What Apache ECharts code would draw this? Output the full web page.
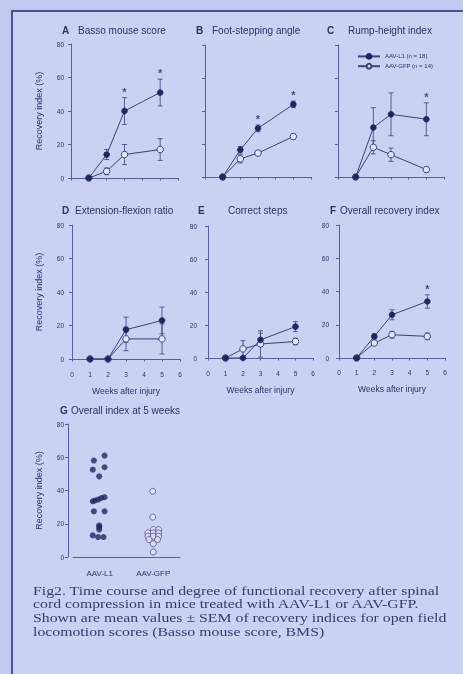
<!DOCTYPE html>
<html><head><meta charset="utf-8">
<script src="https://cdn.jsdelivr.net/npm/echarts@6/dist/echarts.min.js"></script>
<style>html,body{margin:0;padding:0;background:#c3c9ee;} #c{width:463px;height:674px;filter:blur(0.45px);}</style>
</head><body><div id="c"></div>
<script>
// ---------- DATA ----------
const weeks = [1, 2, 3, 5];
const weekTicks = [0, 1, 2, 3, 4, 5, 6];
const yTicks = [0, 20, 40, 60, 80];
const seriesNames = ['AAV-L1 (n = 18)', 'AAV-GFP (n = 14)'];
const groupLabels = ['AAV-L1', 'AAV-GFP'];
const panelLetters = ['A', 'B', 'C', 'D', 'E', 'F', 'G'];
const panelTitles = ['Basso mouse score', 'Foot-stepping angle', 'Rump-height index',
  'Extension-flexion ratio', 'Correct steps', 'Overall recovery index', 'Overall index at 5 weeks'];
const yTitle = 'Recovery index (%)';
const xTitle = 'Weeks after injury';
const caption = [
  'Fig2. Time course and degree of functional recovery after spinal',
  'cord compression in mice treated with AAV-L1 or AAV-GFP.',
  'Shown are mean values \u00b1 SEM of recovery indices for open field',
  'locomotion scores (Basso mouse score, BMS)'
];

// A Basso mouse score
const bassoL1 = [0, 14, 40, 51];
const bassoL1Sem = [0, 3, 8, 8];
const bassoGFP = [0, 4, 14, 17];
const bassoGFPSem = [0, 2, 6, 6.5];
const bassoSig = [3, 5];
// B Foot-stepping angle
const footL1 = [0, 16.5, 29.5, 44];
const footL1Sem = [0, 2, 2, 2];
const footGFP = [0, 11, 14.5, 24.5];
const footGFPSem = [0, 2.5, 1.5, 1.5];
const footSig = [3, 5];
// C Rump-height index
const rumpL1 = [0, 30, 38, 35];
const rumpL1Sem = [0, 12, 13, 10];
const rumpGFP = [0, 18, 13.5, 4.5];
const rumpGFPSem = [0, 4, 4, 1.5];
const rumpSig = [5];
// D Extension-flexion ratio
const extL1 = [0, 0, 17.5, 23];
const extL1Sem = [0, 0, 7.5, 8];
const extGFP = [0, 0, 12, 12];
const extGFPSem = [0, 0, 7, 9];
const extSig = [];
// E Correct steps
const stepsL1 = [0, 0, 11, 19];
const stepsL1Sem = [0, 0, 4, 3];
const stepsGFP = [0, 5.5, 8.5, 10];
const stepsGFPSem = [0, 5, 8, 2];
const stepsSig = [];
// F Overall recovery index
const overallL1 = [0, 13, 26, 34];
const overallL1Sem = [0, 1.5, 3, 4];
const overallGFP = [0, 9, 14, 13];
const overallGFPSem = [0, 1, 2, 2];
const overallSig = [5];
// G Overall index at 5 weeks (individual animals)
const gL1Values = [61, 58, 54, 52.5, 48.5, 36, 35.5, 34.5, 34, 33.5, 27.5, 27.5, 19, 18, 16.5, 13, 12, 12];
const gL1X      = [1.09, 0.89, 1.09, 0.87, 0.99, 1.09, 1.03, 0.97, 0.91, 0.87, 0.89, 1.09, 0.99, 0.99, 0.99, 0.87, 0.97, 1.07];
const gGFPValues = [39.5, 24, 16.5, 16.5, 14.5, 14.5, 14.5, 12.5, 12.5, 12.5, 10.5, 10.5, 8, 3];
const gGFPX      = [1.99, 1.99, 2.0, 2.1, 1.9, 2.0, 2.1, 1.9, 2.0, 2.1, 1.92, 2.08, 2.0, 2.0];

// ---------- STYLE ----------
const C_NAVY = '#1d285c';
const C_LINE = '#3b4374';
const C_AXIS = '#59619a';
const C_TEXT = '#2c3366';
const C_OPEN = '#e2e5f8';
const SANS = '"Liberation Sans", Arial, sans-serif';

const panels = [
  {l1: bassoL1, l1s: bassoL1Sem, g: bassoGFP, gs: bassoGFPSem, sig: bassoSig},
  {l1: footL1, l1s: footL1Sem, g: footGFP, gs: footGFPSem, sig: footSig},
  {l1: rumpL1, l1s: rumpL1Sem, g: rumpGFP, gs: rumpGFPSem, sig: rumpSig},
  {l1: extL1, l1s: extL1Sem, g: extGFP, gs: extGFPSem, sig: extSig},
  {l1: stepsL1, l1s: stepsL1Sem, g: stepsGFP, gs: stepsGFPSem, sig: stepsSig},
  {l1: overallL1, l1s: overallL1Sem, g: overallGFP, gs: overallGFPSem, sig: overallSig}
];
const layout = [
  {left: 71, top: 44, width: 107, height: 134, yOff: 3, xOff: 5, yLab: true, xLab: false, yName: true},
  {left: 205, top: 45, width: 106, height: 132, yOff: 5, xOff: 6, yLab: false, xLab: false, yName: false},
  {left: 338, top: 45, width: 106, height: 132, yOff: 6, xOff: 6, yLab: false, xLab: false, yName: false},
  {left: 72, top: 225, width: 108, height: 134, yOff: 4, xOff: 7, yLab: true, xLab: true, yName: true},
  {left: 208, top: 226, width: 105, height: 132, yOff: 7, xOff: 7, yLab: true, xLab: true, yName: false},
  {left: 339, top: 225, width: 106, height: 133, yOff: 6, xOff: 6, yLab: true, xLab: true, yName: false},
  {left: 73, top: 424, width: 107, height: 133, yOff: 5, xOff: 6, yLab: true, xLab: true, yName: true}
];
const titlePos = [
  {lx: 62, tx: 78, y: 30}, {lx: 196, tx: 212, y: 30}, {lx: 327, tx: 348, y: 30},
  {lx: 62, tx: 75, y: 210}, {lx: 198, tx: 228, y: 210}, {lx: 330, tx: 340, y: 210},
  {lx: 60, tx: 71, y: 410}
];

function errItem(params, api) {
  const x = api.value(0), lo = api.value(1), hi = api.value(2);
  const a = api.coord([x, lo]), b = api.coord([x, hi]);
  const cap = 2.5, st = {stroke: C_LINE, lineWidth: 0.8};
  return {type: 'group', children: [
    {type: 'line', shape: {x1: a[0], y1: a[1], x2: b[0], y2: b[1]}, style: st},
    {type: 'line', shape: {x1: b[0] - cap, y1: b[1], x2: b[0] + cap, y2: b[1]}, style: st},
    {type: 'line', shape: {x1: a[0] - cap, y1: a[1], x2: a[0] + cap, y2: a[1]}, style: st}
  ]};
}

const grid = [], xAxis = [], yAxis = [], series = [], graphic = [];

layout.forEach((L, i) => {
  grid.push({left: L.left, top: L.top, width: L.width, height: L.height});
  const yax = {
    type: 'value', gridIndex: i, min: yTicks[0], max: yTicks[yTicks.length - 1], interval: 20,
    offset: L.yOff,
    axisLine: {show: true, lineStyle: {color: C_AXIS, width: 1}},
    axisTick: {show: true, length: 3, lineStyle: {color: C_AXIS}},
    splitLine: {show: false},
    axisLabel: {show: L.yLab, fontSize: 6.5, color: C_TEXT, margin: 4, fontFamily: SANS}
  };
  if (L.yName) Object.assign(yax, {name: yTitle, nameLocation: 'middle', nameGap: 25,
    nameTextStyle: {fontSize: 9, color: C_TEXT, fontFamily: SANS}});
  yAxis.push(yax);
  if (i < 6) {
    const xax = {
      type: 'value', gridIndex: i, min: weekTicks[0], max: weekTicks[weekTicks.length - 1], interval: 1,
      offset: L.xOff,
      axisLine: {show: true, lineStyle: {color: C_AXIS, width: 1}},
      axisTick: {show: true, length: 2.5, lineStyle: {color: C_AXIS}},
      splitLine: {show: false},
      axisLabel: {show: L.xLab, fontSize: 6.5, color: C_TEXT, margin: 5, fontFamily: SANS}
    };
    if (L.xLab) Object.assign(xax, {name: xTitle, nameLocation: 'middle', nameGap: 20,
      nameTextStyle: {fontSize: 8.5, color: C_TEXT, fontFamily: SANS}});
    xAxis.push(xax);
  }
});

// panel G axes: visible category axis + hidden value axis for jittered dots
xAxis.push({type: 'category', gridIndex: 6, data: groupLabels, offset: layout[6].xOff,
  axisLine: {show: true, lineStyle: {color: C_AXIS}}, axisTick: {show: false},
  axisLabel: {fontSize: 8, color: C_TEXT, margin: 6, fontFamily: SANS}});
const gXVal = xAxis.length;
xAxis.push({type: 'value', gridIndex: 6, min: 0.5, max: 2.5, show: false});

panels.forEach((P, i) => {
  const errL1 = [], errG = [];
  weeks.forEach((w, k) => {
    if (P.l1s[k] > 0) errL1.push([w, P.l1[k] - P.l1s[k], P.l1[k] + P.l1s[k]]);
    if (P.gs[k] > 0) errG.push([w, P.g[k] - P.gs[k], P.g[k] + P.gs[k]]);
  });
  series.push({type: 'custom', xAxisIndex: i, yAxisIndex: i, renderItem: errItem, data: errG, z: 1, silent: true});
  series.push({type: 'custom', xAxisIndex: i, yAxisIndex: i, renderItem: errItem, data: errL1, z: 1, silent: true});
  series.push({type: 'line', name: seriesNames[1], xAxisIndex: i, yAxisIndex: i,
    data: weeks.map((w, k) => [w, P.g[k]]), symbol: 'circle', symbolSize: 6.5,
    itemStyle: {color: C_OPEN, borderColor: C_LINE, borderWidth: 1},
    lineStyle: {color: C_LINE, width: 1}, z: 2});
  series.push({type: 'line', name: seriesNames[0], xAxisIndex: i, yAxisIndex: i,
    data: weeks.map((w, k) => [w, P.l1[k]]), symbol: 'circle', symbolSize: 6,
    itemStyle: {color: C_NAVY, borderColor: C_NAVY, borderWidth: 0.5},
    lineStyle: {color: C_LINE, width: 1}, z: 3});
  if (P.sig.length) {
    series.push({type: 'scatter', xAxisIndex: i, yAxisIndex: i, symbolSize: 1,
      itemStyle: {color: 'rgba(0,0,0,0)'},
      data: P.sig.map(w => { const k = weeks.indexOf(w); return [w, P.l1[k] + P.l1s[k]]; }),
      label: {show: true, formatter: '*', position: 'top', distance: 0, fontSize: 11,
        fontWeight: 'bold', color: C_NAVY, fontFamily: SANS}, z: 4, silent: true});
  }
});

series.push({type: 'scatter', xAxisIndex: gXVal, yAxisIndex: 6, symbol: 'circle', symbolSize: 6,
  itemStyle: {color: C_NAVY}, data: gL1Values.map((v, k) => [gL1X[k], v]), z: 3});
series.push({type: 'scatter', xAxisIndex: gXVal, yAxisIndex: 6, symbol: 'circle', symbolSize: 6,
  itemStyle: {color: C_OPEN, borderColor: '#4a5288', borderWidth: 1}, data: gGFPValues.map((v, k) => [gGFPX[k], v]), z: 3});

// background + frame
graphic.push({type: 'rect', z: -10, shape: {x: 12, y: 11, width: 451, height: 663}, style: {fill: '#cbd1f2'}, silent: true});
graphic.push({type: 'polyline', z: 10, shape: {points: [[463, 11], [12, 11], [12, 674]]}, style: {stroke: '#4b5488', lineWidth: 2, fill: null}, silent: true});

panelLetters.forEach((t, i) => {
  const p = titlePos[i];
  graphic.push({type: 'text', style: {text: t, x: p.lx, y: p.y, font: 'bold 10px ' + SANS, fill: C_TEXT, verticalAlign: 'middle'}});
  graphic.push({type: 'text', style: {text: panelTitles[i], x: p.tx, y: p.y, font: '10px ' + SANS, fill: C_TEXT, verticalAlign: 'middle'}});
});

caption.forEach((line, k) => {
  graphic.push({type: 'text', x: 33, y: 590 + k * 13.7, scaleX: 1.17,
    style: {text: line, x: 0, y: 0, font: '13.5px "Liberation Serif", "Times New Roman", serif',
      fill: '#363c6c', verticalAlign: 'middle'}});
});

const chart = echarts.init(document.getElementById('c'), null, {renderer: 'svg'});
chart.setOption({
  animation: false,
  backgroundColor: '#c3c9ee',
  grid, xAxis, yAxis, series, graphic,
  legend: {data: seriesNames, orient: 'vertical', left: 352, top: 48, itemWidth: 22, itemHeight: 6, itemGap: 3,
    textStyle: {fontSize: 6, color: C_TEXT, fontFamily: SANS}, selectedMode: false}
});
</script></body></html>
